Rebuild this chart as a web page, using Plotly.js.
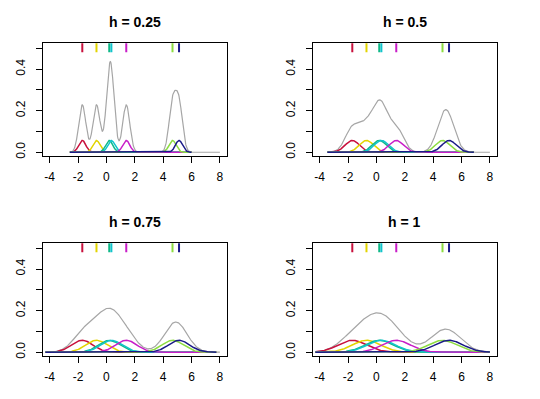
<!DOCTYPE html>
<html>
<head>
<meta charset="utf-8">
<script src="https://cdn.plot.ly/plotly-3.0.1.min.js"></script>
<style>html,body{margin:0;padding:0;background:#fff;}#chart{width:540px;height:399px;}</style>
</head>
<body>
<div id="chart"></div>
<script>
// ---- data ----
const samples = [-1.7, -0.7, 0.2, 0.35, 1.4, 4.66, 5.12];          // rug positions
const bandwidths = [0.25, 0.5, 0.75, 1];                             // h per panel
const panelTitles = ['h = 0.25', 'h = 0.5', 'h = 0.75', 'h = 1'];
const xTickVals = [-4, -2, 0, 2, 4, 6, 8];
const xTickText = ['-4', '-2', '0', '2', '4', '6', '8'];
const yTickVals = [0, 0.1, 0.2, 0.3, 0.4, 0.5];
const yTickText = ['0.0', '', '0.2', '', '0.4', ''];

// ---- styles ----
const sampleColors = ['#C8103C', '#E2D400', '#10B888', '#10C4CC', '#C81EC8', '#8CDC40', '#1A1A88'];
const totalColor = '#A6A6A6';

const n = samples.length;
const dnorm = z => Math.exp(-0.5 * z * z) / Math.sqrt(2 * Math.PI);

const panels = [
  {x: [0.0791, 0.4198], y: [0.609, 0.893]},
  {x: [0.5791, 0.9198], y: [0.609, 0.893]},
  {x: [0.0791, 0.4198], y: [0.108, 0.392]},
  {x: [0.5791, 0.9198], y: [0.108, 0.392]}
];

const traces = [];
const shapes = [];
const annotations = [];
const layout = {
  width: 540, height: 399,
  margin: {l: 0, r: 0, t: 0, b: 0},
  paper_bgcolor: '#fff', plot_bgcolor: '#fff',
  showlegend: false,
  font: {family: 'Liberation Sans, Arial, sans-serif', size: 12, color: '#000'}
};

const sMin = Math.min(...samples), sMax = Math.max(...samples);

bandwidths.forEach((h, p) => {
  const sfx = p === 0 ? '' : String(p + 1);
  const xa = 'x' + sfx, ya = 'y' + sfx;
  const lo = Math.max(sMin - 3.5 * h, -4.3);
  const hiK = Math.min(sMax + 3.5 * h, 8.0);
  const N = 400;
  // total density
  const gx = [], gy = [];
  for (let i = 0; i <= N; i++) {
    const x = lo + (8.0 - lo) * i / N;
    let s = 0;
    samples.forEach(xi => { s += dnorm((x - xi) / h) / h; });
    gx.push(x); gy.push(s / n);
  }
  traces.push({x: gx, y: gy, xaxis: xa, yaxis: ya, type: 'scatter', mode: 'lines',
    line: {color: totalColor, width: 1.2}, hoverinfo: 'skip'});
  // individual kernels
  samples.forEach((xi, k) => {
    const kx = [], ky = [];
    for (let i = 0; i <= N; i++) {
      const x = lo + (hiK - lo) * i / N;
      kx.push(x); ky.push(dnorm((x - xi) / h) / n);
    }
    traces.push({x: kx, y: ky, xaxis: xa, yaxis: ya, type: 'scatter', mode: 'lines',
      line: {color: sampleColors[k], width: 1.5}, hoverinfo: 'skip'});
    // rug tick at top
    shapes.push({type: 'line', xref: xa, yref: ya + ' domain', x0: xi, x1: xi, y0: 0.995, y1: 0.915,
      line: {color: sampleColors[k], width: 2}});
  });

  const axBase = {
    showgrid: false, zeroline: false, showline: true, mirror: true,
    linecolor: '#000', linewidth: 1, ticks: 'outside', ticklen: 6, tickcolor: '#000',
    tickfont: {family: 'Liberation Sans, Arial, sans-serif', size: 12, color: '#000'}
  };
  layout['xaxis' + sfx] = Object.assign({}, axBase, {
    domain: panels[p].x, anchor: ya, range: [-4.49, 8.48],
    tickmode: 'array', tickvals: xTickVals, ticktext: xTickText, ticklabelstandoff: 4
  });
  layout['yaxis' + sfx] = Object.assign({}, axBase, {
    domain: panels[p].y, anchor: xa, range: [-0.018, 0.527],
    tickmode: 'array', tickvals: yTickVals, ticktext: yTickText, tickangle: -90, ticklabelstandoff: 6
  });
  annotations.push({text: '<b>' + panelTitles[p] + '</b>', xref: 'paper', yref: 'paper',
    x: (panels[p].x[0] + panels[p].x[1]) / 2, y: p < 2 ? 1 - 22 / 399 : 1 - 222 / 399,
    xanchor: 'center', yanchor: 'middle', showarrow: false,
    font: {family: 'Liberation Sans, Arial, sans-serif', size: 14, color: '#000'}});
});

layout.shapes = shapes;
layout.annotations = annotations;
Plotly.newPlot('chart', traces, layout, {staticPlot: true, displayModeBar: false});
</script>
</body>
</html>
